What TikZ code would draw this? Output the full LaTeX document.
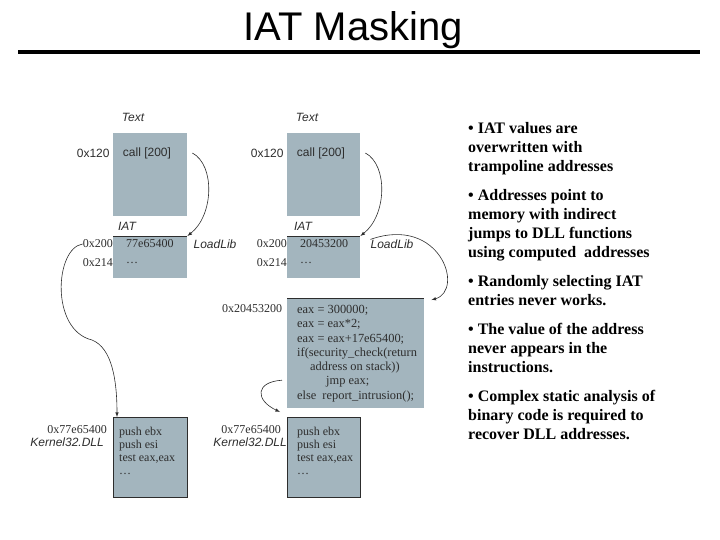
\documentclass[tikz,border=0pt]{standalone}
\usepackage{fontspec}
\setmainfont{Liberation Serif}
\setsansfont{Liberation Sans}
\usetikzlibrary{positioning}
\definecolor{memfill}{RGB}{163,181,190}
\definecolor{ink}{RGB}{45,45,45}
\tikzset{mem box/.style={fill=memfill,inner sep=0pt,anchor=north west},
  sf label/.style={font=\sffamily\fontsize{12}{14}\selectfont,text=ink,inner sep=0pt},
  it label/.style={font=\sffamily\itshape\fontsize{12}{14}\selectfont,text=ink,inner sep=0pt},
  rm label/.style={font=\fontsize{12}{14}\selectfont,text=ink,inner sep=0pt},
  code/.style={font=\fontsize{12.4}{14.3}\selectfont,text=ink,align=left,inner sep=0pt,anchor=north west},
  link/.style={->,>=latex,draw=ink,line width=0.6pt},
  rim/.style={draw=ink,line width=0.8pt},}

\begin{document}
\begin{tikzpicture}[x=1pt,y=-1pt]
  \useasboundingbox (0,0) rectangle (720,540);

  % title
  \node[font=\sffamily\fontsize{40}{48}\selectfont,anchor=base] (title) at (353,41) {IAT Masking};
  \draw[line width=4pt] (18,52) -- (700,52);

  % left: original layout
  \node[mem box,minimum width=74pt,minimum height=83pt] (textL) at (113,133) {};
  \node[mem box,minimum width=74pt,minimum height=42pt] (iatL) at (113,236) {};
  \node[mem box,rim,minimum width=74pt,minimum height=80pt] (kerL) at (113,417) {};
  \draw[rim] (iatL.north west) -- (iatL.north east);

  \node[it label] (textlblL) at (133,117) {Text};
  \node[sf label] (callL) at (147,153) {call [200]};
  \node[sf label,left=13pt of callL] (adrL120) {0x120};
  \node[it label] (iatlblL) at (127,226) {IAT};
  \node[rm label,anchor=west] (valL200) at (126,244) {77e65400};
  \node[rm label,anchor=east] (adrL200) at (113,244) {0x200};
  \node[rm label,anchor=west] (valL214) at (126,263) {\dots};
  \node[rm label,anchor=east] (adrL214) at (113,263) {0x214};
  \node[it label] (loadL) at (215,244) {LoadLib};
  \node[code,font=\fontsize{12}{13}\selectfont] (codeL) at (119,427) {push ebx\\push esi\\test eax,eax\\\dots};
  \node[rm label,anchor=east] (adrLker) at (107,430) {0x77e65400};
  \node[it label,anchor=east] (dllL) at (104,442) {Kernel32.DLL};

  % right: masked layout
  \node[mem box,minimum width=73pt,minimum height=83pt] (textR) at (287,133) {};
  \node[mem box,minimum width=73pt,minimum height=42pt] (iatR) at (287,236) {};
  \node[mem box,minimum width=137pt,minimum height=110pt] (tramp) at (287,298) {};
  \node[mem box,rim,minimum width=73pt,minimum height=80pt] (kerR) at (287,417) {};
  \draw[rim] (iatR.north west) -- (iatR.north east);
  \draw[rim] (tramp.north west) -- (tramp.north east);

  \node[it label] (textlblR) at (307,117) {Text};
  \node[sf label] (callR) at (321,153) {call [200]};
  \node[sf label,left=13pt of callR] (adrR120) {0x120};
  \node[it label] (iatlblR) at (303,226) {IAT};
  \node[rm label,anchor=west] (valR200) at (300,244) {20453200};
  \node[rm label,anchor=east] (adrR200) at (287,244) {0x200};
  \node[rm label,anchor=west] (valR214) at (300,263) {\dots};
  \node[rm label,anchor=east] (adrR214) at (287,263) {0x214};
  \node[it label] (loadR) at (392,244) {LoadLib};
  \node[rm label] (adrT) at (252,309) {0x20453200};
  \node[code] (codeT) at (297,305) {eax = 300000;\\eax = eax*2;\\eax = eax+17e65400;\\if(security\_check(return\\
    \hspace*{13pt}address on stack))\\\hspace*{29pt}jmp eax;\\else\hspace*{6pt}report\_intrusion();};
  \node[code,font=\fontsize{12}{13}\selectfont] (codeR) at (297,427) {push ebx\\push esi\\test eax,eax\\\dots};
  \node[rm label,anchor=east] (adrRker) at (281,430) {0x77e65400};
  \node[it label,anchor=east] (dllR) at (287,442) {Kernel32.DLL};

  % arrows
  \draw[link] ([xshift=5pt]textL.east |- callL.east) .. controls (215,165) and (214,215) .. (iatL.north east);
  \draw[link] (adrL200.west) .. controls (55,248) and (50,330) .. (92,340)
    .. controls (112,348) and (117,380) .. ([xshift=4pt]kerL.north west);
  \draw[link] ([xshift=5pt]textR.east |- callR.east) .. controls (388,165) and (387,215) .. (iatR.north east);
  \draw[link] (loadR.north west) .. controls (440,215) and (465,290) .. ([xshift=7pt,yshift=-2pt]tramp.north east);
  \draw[link] ([xshift=-5pt,yshift=-27pt]tramp.west) .. controls (255,382) and (255,400) .. ([shift={(-7pt,5pt)}]kerR.north west);

  % notes
  \node[font=\bfseries\fontsize{16}{19}\selectfont,align=left,inner sep=0pt,anchor=north west] (notes) at (468,122)
    {\textbullet{} IAT values are\\overwritten with\\trampoline addresses\\[10pt]
     \textbullet{} Addresses point to\\memory with indirect\\jumps to DLL functions\\using computed~ addresses\\[10pt]
     \textbullet{} Randomly selecting IAT\\entries never works.\\[10pt]
     \textbullet{} The value of the address\\never appears in the\\instructions.\\[10pt]
     \textbullet{} Complex static analysis of\\binary code is required to\\recover DLL addresses.};
\end{tikzpicture}
\end{document}
